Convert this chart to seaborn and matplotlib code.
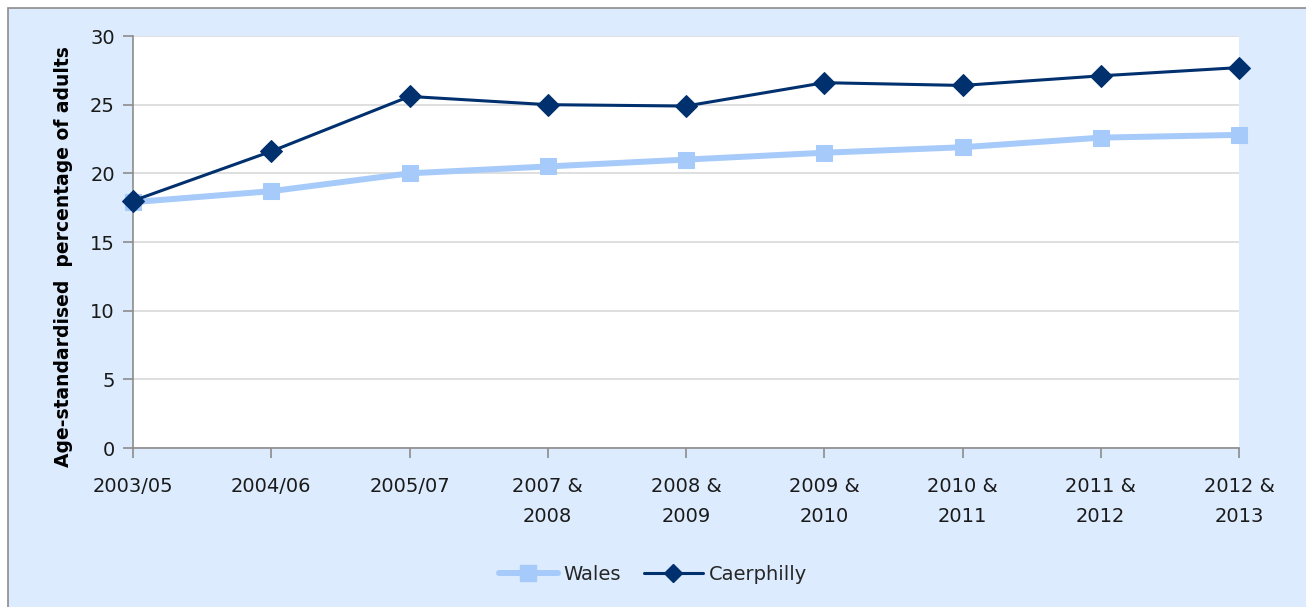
import matplotlib
matplotlib.use("Agg")
import matplotlib.pyplot as plt
import seaborn as sns
import pandas as pd
from matplotlib.patches import Rectangle
from matplotlib.lines import Line2D

periods = ["2003/05", "2004/06", "2005/07", "2007 &\n2008", "2008 &\n2009",
           "2009 &\n2010", "2010 &\n2011", "2011 &\n2012", "2012 &\n2013"]
wales = [17.9, 18.7, 20.0, 20.5, 21.0, 21.5, 21.9, 22.6, 22.8]
caerphilly = [18.0, 21.6, 25.6, 25.0, 24.9, 26.6, 26.4, 27.1, 27.7]

df = pd.DataFrame({
    "period": periods * 2,
    "value": wales + caerphilly,
    "series": ["Wales"] * len(periods) + ["Caerphilly"] * len(periods),
})

sns.set_theme(style="white")
plt.rcParams['font.family'] = ['DejaVu Sans']

BG = "#DCEBFD"
W_COL = "#A6CAF9"
C_COL = "#00306E"

fig = plt.figure(figsize=(13.06, 6.07), dpi=100)
fig.patch.set_facecolor("white")
bg = Rectangle((8 / 1306, -0.01), 1.02, 1 - 8 / 607 + 0.01,
               transform=fig.transFigure, facecolor=BG,
               edgecolor="#8c8c8c", linewidth=1.2, zorder=-10)
fig.patches.append(bg)

ax = fig.add_axes([133 / 1306, 1 - 448 / 607, (1239 - 133) / 1306, (448 - 36) / 607])
ax.set_zorder(1)
ax.set_facecolor("white")

sns.lineplot(data=df, x="period", y="value", hue="series",
             palette={"Wales": W_COL, "Caerphilly": C_COL},
             style="series", markers={"Wales": "s", "Caerphilly": "D"},
             dashes=False, sort=False, ax=ax, legend=False)

for ln in ax.get_lines():
    if matplotlib.colors.to_hex(ln.get_color()).lower() == W_COL.lower():
        ln.set_linewidth(4.3)
        ln.set_markersize(11)
        ln.set_markeredgecolor(W_COL)
        ln.set_zorder(3)
    else:
        ln.set_linewidth(2.2)
        ln.set_markersize(11)
        ln.set_markeredgecolor(C_COL)
        ln.set_zorder(4)
    ln.set_clip_on(False)

ax.set_xlim(0, len(periods) - 1)
ax.set_ylim(0, 30)
ax.set_yticks([0, 5, 10, 15, 20, 25, 30])
ax.yaxis.grid(True, color="#d9d9d9", linewidth=1.2)
ax.set_axisbelow(True)
for s in ["top", "right"]:
    ax.spines[s].set_visible(False)
for s in ["left", "bottom"]:
    ax.spines[s].set_color("#8c8c8c")
    ax.spines[s].set_linewidth(1.2)
ax.tick_params(axis="both", which="major", direction="out", length=7, width=1.2,
               color="#8c8c8c", labelsize=14, labelcolor="#1a1a1a", pad=6,
               bottom=True, left=True)
ax.tick_params(axis="x", pad=14)
for lab in ax.get_xticklabels():
    lab.set_linespacing(1.75)
ax.set_xlabel("")
ax.set_ylabel("Age-standardised  percentage of adults", fontsize=13.5, fontweight="bold",
              color="black")
ax.yaxis.set_label_coords(-0.054, 0.465)

handles = [
    Line2D([], [], color=W_COL, lw=4.3, marker="s", markersize=11, markeredgecolor=W_COL),
    Line2D([], [], color=C_COL, lw=2.2, marker="D", markersize=9, markeredgecolor=C_COL),
]
fig.legend(handles, ["Wales", "Caerphilly"], loc="center", bbox_to_anchor=(0.5, 1 - 574 / 607),
           ncol=2, frameon=False, fontsize=14, handlelength=3, columnspacing=1.2,
           handletextpad=0.3)

fig.savefig("out.png", dpi=100, facecolor=fig.get_facecolor())
